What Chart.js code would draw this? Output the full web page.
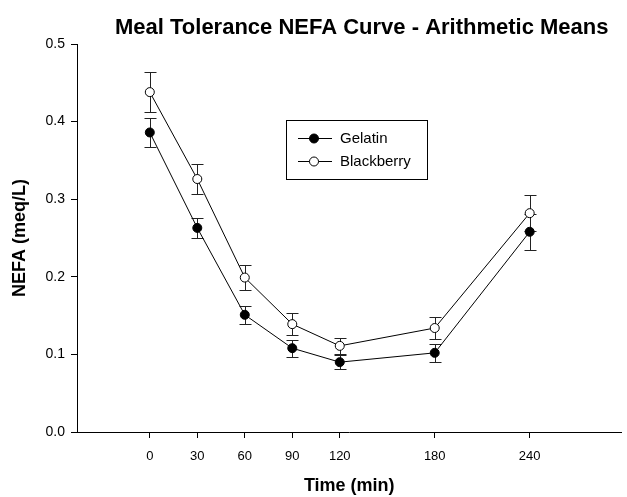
<!DOCTYPE html>
<html>
<head>
<meta charset="utf-8">
<script src="https://cdn.jsdelivr.net/npm/chart.js@4.4.1/dist/chart.umd.min.js"></script>
<style>
  html, body { margin: 0; padding: 0; background: #ffffff; }
  #wrap { width: 627px; height: 497px; }
</style>
</head>
<body>
<div id="wrap"><canvas id="c" width="627" height="497"></canvas></div>
<script>
const chartTitle = 'Meal Tolerance NEFA Curve - Arithmetic Means';
const xAxisTitle = 'Time (min)';
const yAxisTitle = 'NEFA (meq/L)';
const timePoints = [0, 30, 60, 90, 120, 180, 240];
const xTickValues = [0, 30, 60, 90, 120, 180, 240];
const yTickValues = [0.0, 0.1, 0.2, 0.3, 0.4, 0.5];
const seriesNames = ['Gelatin', 'Blackberry'];
const gelatinMeans = [0.386, 0.263, 0.151, 0.108, 0.090, 0.102, 0.258];
const gelatinErr = [0.019, 0.013, 0.012, 0.011, 0.009, 0.012, 0.023];
const blackberryMeans = [0.438, 0.326, 0.199, 0.139, 0.111, 0.134, 0.282];
const blackberryErr = [0.026, 0.019, 0.016, 0.014, 0.010, 0.014, 0.023];

const FONT = 'Arial, "Liberation Sans", sans-serif';

function pts(xs, ys) { return xs.map((x, i) => ({ x: x, y: ys[i] })); }

const errorBarPlugin = {
  id: 'errorBars',
  beforeDatasetsDraw(chart) {
    const ctx = chart.ctx;
    const xs = chart.scales.x, ys = chart.scales.y;
    const errs = [gelatinErr, blackberryErr];
    ctx.save();
    ctx.strokeStyle = '#222222';
    ctx.lineWidth = 1;
    chart.data.datasets.forEach((ds, di) => {
      ds.data.forEach((p, i) => {
        const e = errs[di][i];
        const px = Math.round(xs.getPixelForValue(p.x)) + 0.5;
        const yt = Math.round(ys.getPixelForValue(p.y + e)) + 0.5;
        const yb = Math.round(ys.getPixelForValue(p.y - e)) + 0.5;
        ctx.beginPath();
        ctx.moveTo(px, yt); ctx.lineTo(px, yb);
        ctx.moveTo(px - 6, yt); ctx.lineTo(px + 6, yt);
        ctx.moveTo(px - 6, yb); ctx.lineTo(px + 6, yb);
        ctx.stroke();
      });
    });
    ctx.restore();
  }
};

const titleLegendPlugin = {
  id: 'titleLegend',
  afterDraw(chart) {
    const ctx = chart.ctx;
    ctx.save();
    ctx.fillStyle = '#000000';
    ctx.font = 'bold 22px ' + FONT;
    ctx.textAlign = 'left';
    ctx.textBaseline = 'alphabetic';
    ctx.fillText(chartTitle, 115, 34);

    // legend box
    const bx = 286, by = 120, bw = 141, bh = 59;
    ctx.strokeStyle = '#000000';
    ctx.lineWidth = 1;
    ctx.strokeRect(bx + 0.5, by + 0.5, bw, bh);
    ctx.font = '15px ' + FONT;
    ctx.textAlign = 'left';
    ctx.textBaseline = 'middle';
    chart.data.datasets.forEach((ds, i) => {
      const y = by + 18 + i * 23;
      ctx.beginPath();
      ctx.moveTo(bx + 12, y + 0.5); ctx.lineTo(bx + 46, y + 0.5);
      ctx.stroke();
      ctx.beginPath();
      ctx.arc(bx + 28, y + 0.5, 4.5, 0, Math.PI * 2);
      ctx.fillStyle = ds.pointBackgroundColor;
      ctx.fill();
      ctx.stroke();
      ctx.fillStyle = '#000000';
      ctx.fillText(ds.label, bx + 54, y + 1);
    });
    ctx.restore();
  }
};

const axisCommon = {
  border: { display: true, color: '#000000', width: 1 },
  grid: { display: true, drawOnChartArea: false, drawTicks: true, tickLength: 6, tickColor: '#000000', tickWidth: 1 },
};

new Chart(document.getElementById('c'), {
  type: 'line',
  data: {
    datasets: [
      {
        label: seriesNames[0],
        data: pts(timePoints, gelatinMeans),
        borderColor: '#000000', borderWidth: 1,
        pointBackgroundColor: '#000000', pointBorderColor: '#000000',
        pointRadius: 4.5, pointBorderWidth: 1, tension: 0, fill: false
      },
      {
        label: seriesNames[1],
        data: pts(timePoints, blackberryMeans),
        borderColor: '#000000', borderWidth: 1,
        pointBackgroundColor: '#ffffff', pointBorderColor: '#000000',
        pointRadius: 4.5, pointBorderWidth: 1, tension: 0, fill: false
      }
    ]
  },
  options: {
    responsive: false,
    animation: false,
    devicePixelRatio: 1,
    layout: { padding: { top: 44, right: 1, left: 0, bottom: 0 } },
    plugins: { legend: { display: false }, title: { display: false }, tooltip: { enabled: false } },
    scales: {
      x: Object.assign({}, axisCommon, {
        type: 'linear', min: -46, max: 298,
        afterBuildTicks(s) { s.ticks = xTickValues.map(v => ({ value: v })); },
        afterFit(s) { s.height = 65; },
        ticks: { color: '#000000', font: { family: FONT, size: 13 }, padding: 11, maxRotation: 0, autoSkip: false },
        title: { display: true, text: xAxisTitle, color: '#000000', font: { family: FONT, size: 18, weight: 'bold' }, padding: { top: 0, bottom: 0 } }
      }),
      y: Object.assign({}, axisCommon, {
        type: 'linear', min: 0, max: 0.5,
        afterBuildTicks(s) { s.ticks = yTickValues.map(v => ({ value: v })); },
        afterFit(s) { s.width = 77; },
        ticks: { color: '#000000', font: { family: FONT, size: 14 }, padding: 6, callback: v => Number(v).toFixed(1) },
        title: { display: true, text: yAxisTitle, color: '#000000', font: { family: FONT, size: 18, weight: 'bold' }, padding: { top: 9, bottom: 0 } }
      })
    }
  },
  plugins: [errorBarPlugin, titleLegendPlugin]
});
</script>
</body>
</html>
